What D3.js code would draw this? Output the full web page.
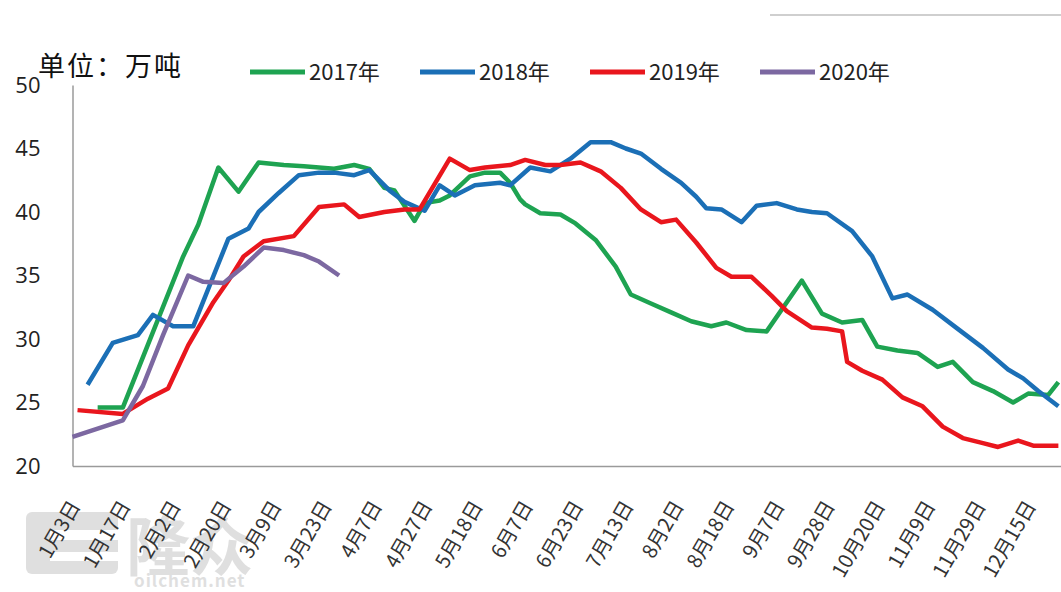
<!DOCTYPE html>
<html>
<head>
<meta charset="utf-8">
<script src="https://cdn.jsdelivr.net/npm/d3@7/dist/d3.min.js"></script>
<style>
  html, body { margin: 0; padding: 0; background: #fff; }
  svg { display: block; }
  text { font-family: "Noto Sans CJK SC", "Noto Sans", sans-serif; }
</style>
</head>
<body>
<svg id="chart" width="1061" height="592"></svg>
<script>
// Weekly inventory, unit: 10k tonnes. x = category index on the shared date axis.
const tickLabels = ["1月3日", "1月17日", "2月2日", "2月20日", "3月9日", "3月23日", "4月7日",
  "4月27日", "5月18日", "6月7日", "6月23日", "7月13日", "8月2日", "8月18日", "9月7日",
  "9月28日", "10月20日", "11月9日", "11月29日", "12月15日"];
const labelEvery = 10;           // one axis label every 10 categories
const yTicks = [20, 25, 30, 35, 40, 45, 50];

const seriesNames = ["2017年", "2018年", "2019年", "2020年"];
const seriesColors = ["#1ea351", "#1b6fb6", "#e9161d", "#7c68a1"];

const values2017 = [[5,24.6],[10,24.6],[22,36.5],[25,39.0],[29,43.5],[33,41.6],[37,43.9],[42,43.7],
  [46,43.6],[52,43.4],[56,43.7],[59,43.4],[62,41.9],[64,41.7],[68,39.3],[70,40.7],[73,40.9],[75,41.3],
  [79,42.8],[82,43.1],[85,43.1],[87,42.3],[89,41.0],[90,40.6],[93,39.9],[97,39.8],[100,39.1],[104,37.8],
  [108,35.7],[111,33.5],[115,32.8],[119,32.1],[123,31.4],[127,31.0],[130,31.3],[134,30.7],[138,30.6],
  [145,34.6],[149,32.0],[153,31.3],[157,31.5],[160,29.4],[164,29.1],[168,28.9],[172,27.8],[175,28.2],
  [179,26.6],[183,25.9],[187,25.0],[190,25.7],[194,25.6],[196,26.6]];
const values2018 = [[3,26.4],[8,29.7],[13,30.3],[16,31.9],[20,31.0],[24,31.0],[31,37.9],[35,38.7],
  [37,40.0],[41,41.5],[45,42.9],[49,43.1],[52,43.1],[56,42.9],[59,43.3],[63,41.7],[66,40.8],[70,40.1],
  [73,42.1],[76,41.3],[80,42.1],[85,42.3],[87,42.1],[91,43.5],[95,43.2],[99,44.2],[103,45.5],[107,45.5],
  [110,45.0],[113,44.6],[117,43.4],[121,42.3],[124,41.2],[126,40.3],[129,40.2],[133,39.2],[136,40.5],
  [140,40.7],[144,40.2],[147,40.0],[150,39.9],[155,38.5],[159,36.5],[163,33.2],[166,33.5],[171,32.3],
  [176,30.8],[181,29.3],[186,27.6],[189,26.9],[192,25.9],[196,24.7]];
const values2019 = [[1,24.4],[10,24.1],[15,25.3],[19,26.1],[23,29.5],[28,32.9],[31,34.6],[34,36.5],
  [38,37.7],[44,38.1],[49,40.4],[54,40.6],[57,39.6],[62,40.0],[66,40.2],[69,40.2],[75,44.2],[79,43.3],
  [82,43.5],[87,43.7],[90,44.1],[94,43.7],[97,43.7],[101,43.9],[105,43.2],[109,41.9],[113,40.2],
  [117,39.2],[120,39.4],[124,37.6],[128,35.6],[131,34.9],[135,34.9],[139,33.4],[142,32.2],[147,30.9],
  [150,30.8],[153,30.6],[154,28.2],[157,27.5],[161,26.8],[165,25.4],[169,24.7],[173,23.1],[177,22.2],
  [181,21.8],[184,21.5],[188,22.0],[191,21.6],[196,21.6]];
const values2020 = [[0,22.3],[10,23.6],[14,26.3],[18,30.3],[23,35.0],[26,34.5],[30,34.4],[34,35.7],
  [38,37.2],[42,37.0],[46,36.6],[49,36.1],[53,35.0]];

const allSeries = [values2017, values2018, values2019, values2020];

const svg = d3.select("#chart");
const W = 1061, H = 592;
const plot = { left: 72.5, top: 85, bottom: 466 };

svg.append("rect").attr("width", W).attr("height", H).attr("fill", "#fff");

// thin frame remnant at the top right
svg.append("line").attr("x1", 770).attr("x2", W).attr("y1", 15).attr("y2", 15)
  .attr("stroke", "#cfcfcf").attr("stroke-width", 2);

const x = d3.scaleLinear().domain([0, 200]).range([plot.left, plot.left + 200 * 5.03]);
const y = d3.scaleLinear().domain([20, 50]).range([plot.bottom, plot.top]);

// watermark logo
const wm = svg.append("g").attr("fill", "#cfcfcf").attr("opacity", 0.65);
wm.append("rect").attr("x", 26).attr("y", 512).attr("width", 92).attr("height", 62).attr("rx", 6);
wm.append("rect").attr("x", 50).attr("y", 530).attr("width", 68).attr("height", 10).attr("fill", "#fff");
wm.append("rect").attr("x", 50).attr("y", 552).attr("width", 68).attr("height", 9).attr("fill", "#fff");
wm.append("text").attr("x", 126).attr("y", 570).attr("font-size", 64).attr("font-weight", 700)
  .text("隆众");
wm.append("text").attr("x", 134).attr("y", 587).attr("font-size", 17).attr("font-weight", 700)
  .attr("letter-spacing", 1).text("oilchem.net");

// y axis
const yAxis = svg.append("g").attr("transform", `translate(${plot.left},0)`)
  .call(d3.axisLeft(y).tickValues(yTicks).tickSize(0).tickPadding(32));
yAxis.select(".domain").attr("stroke", "#9a9a9a").attr("stroke-width", 1.5);
yAxis.selectAll("text").attr("font-size", 22).attr("fill", "#222")
  .style("font-family", "'Open Sans', 'Noto Sans', sans-serif");

// x axis
const xAxis = svg.append("g").attr("transform", `translate(0,${plot.bottom})`)
  .call(d3.axisBottom(x)
    .tickValues(tickLabels.map((_, i) => i * labelEvery))
    .tickFormat((d) => tickLabels[d / labelEvery])
    .tickSize(0));
xAxis.select(".domain").attr("stroke", "#9a9a9a").attr("stroke-width", 1.5);
xAxis.selectAll("text")
  .attr("font-size", 20).attr("fill", "#333")
  .attr("text-anchor", "end")
  .attr("x", 0).attr("y", 0).attr("dy", 0)
  .attr("transform", "translate(8,40) rotate(-60)");

// series lines
const line = d3.line().x((d) => x(d[0])).y((d) => y(d[1]));
svg.append("g").selectAll("path").data(allSeries).join("path")
  .attr("d", line)
  .attr("fill", "none")
  .attr("stroke", (d, i) => seriesColors[i])
  .attr("stroke-width", 4.5)
  .attr("stroke-linejoin", "round");

// unit title
svg.append("text").attr("x", 38).attr("y", 76).attr("font-size", 27).attr("letter-spacing", 2)
  .attr("fill", "#111").text("单位：万吨");

// legend
const legend = svg.append("g").selectAll("g").data(seriesNames).join("g")
  .attr("transform", (d, i) => `translate(${250 + i * 170},72)`);
legend.append("line").attr("x1", 0).attr("x2", 55).attr("y1", 0).attr("y2", 0)
  .attr("stroke", (d, i) => seriesColors[i]).attr("stroke-width", 5);
legend.append("text").attr("x", 59).attr("y", 8).attr("font-size", 22).attr("fill", "#222")
  .text((d) => d);
</script>
</body>
</html>
